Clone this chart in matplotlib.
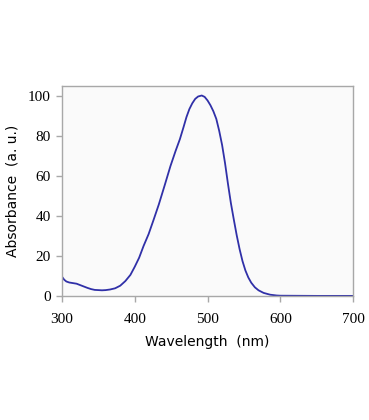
import numpy as np
from matplotlib import pyplot as plt

# Wavelength (nm) and absorbance (a. u.)
wavelength = [300, 303, 306, 310, 315, 320, 325, 330, 335, 340, 345, 350, 355, 360,
              366, 373, 380, 387, 394, 400, 406, 412, 419, 426, 433, 441, 449, 456,
              462, 467, 471, 475, 479, 483, 487, 492, 496, 500, 504, 508, 512, 516,
              520, 524, 528, 532, 536, 540, 544, 548, 552, 556, 560, 565, 570, 577,
              586, 595, 600, 650, 700]
absorbance = [9.7, 8.2, 7.3, 6.8, 6.5, 6.2, 5.5, 4.8, 4.1, 3.5, 3.1, 3.0, 2.9, 3.0,
              3.3, 3.9, 5.2, 7.5, 10.6, 14.7, 19.2, 25.0, 31.0, 38.3, 45.8, 55.3, 65.0, 72.5,
              78.5, 84.5, 89.5, 93.5, 96.4, 98.6, 99.8, 100.3, 99.6, 97.8, 95.4, 92.4, 88.6, 82.6,
              75.5, 66.5, 56.2, 46.6, 38.4, 30.5, 23.5, 17.5, 12.8, 9.3, 6.7, 4.4, 2.9, 1.6,
              0.7, 0.3, 0.2, 0.1, 0.1]

x_ticks = [300, 400, 500, 600, 700]
y_ticks = [0, 20, 40, 60, 80, 100]

fig = plt.figure(figsize=(3.69, 4.2), dpi=100)
fig.patch.set_facecolor('white')
ax = fig.add_axes([0.168, 0.295, 0.789, 0.500])
ax.set_facecolor('#fafafa')

ax.plot(wavelength, absorbance, color='#3030a8', linewidth=1.3,
        solid_joinstyle='round')

ax.set_xlim(300, 700)
ax.set_ylim(0, 105)
ax.set_xticks(x_ticks)
ax.set_yticks(y_ticks)

for s in ax.spines.values():
    s.set_color('#a8a8a8')
    s.set_linewidth(1.0)
ax.tick_params(direction='out', length=4, color='#a8a8a8', width=1.0, pad=4)
ax.tick_params(axis='x', pad=8)
for lab in ax.get_xticklabels() + ax.get_yticklabels():
    lab.set_fontfamily('Liberation Serif')
    lab.set_fontsize(11)

ax.set_xlabel('Wavelength  (nm)', fontfamily='DejaVu Sans', fontsize=10, labelpad=7)
ax.set_ylabel('Absorbance  (a. u.)', fontfamily='DejaVu Sans', fontsize=10, labelpad=6)

fig.savefig('out.png', dpi=100)
